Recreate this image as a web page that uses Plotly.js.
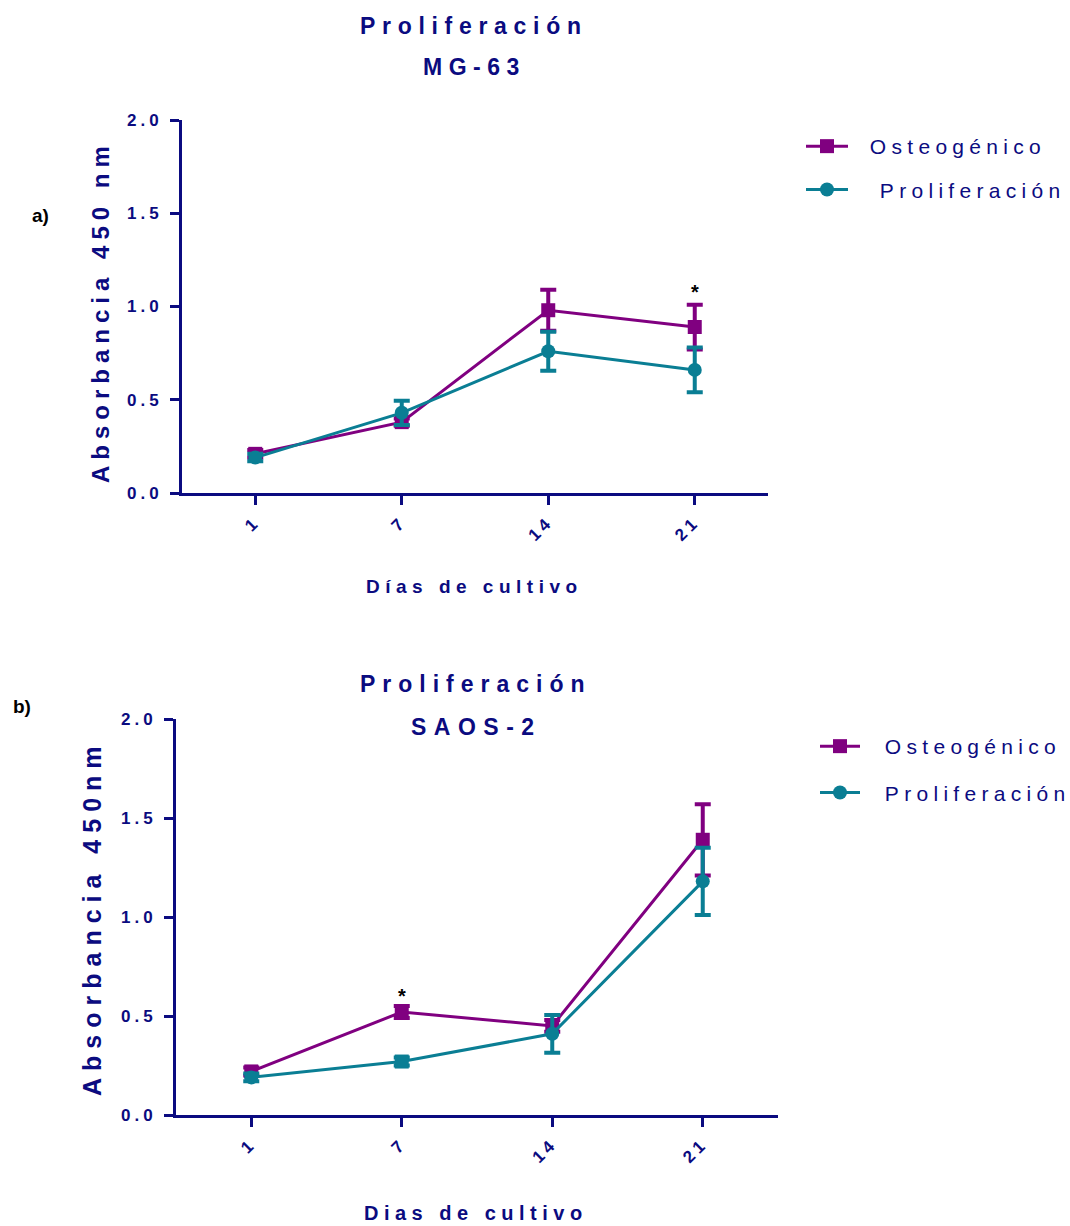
<!DOCTYPE html>
<html>
<head>
<meta charset="utf-8">
<script src="https://cdn.plot.ly/plotly-3.0.1.min.js"></script>
<style>
html,body{margin:0;padding:0;background:#fff;overflow:hidden;width:1070px;height:1226px}
</style>
</head>
<body>
<div id="chart" style="width:1070px;height:1226px"></div>
<script>
// Culture days (categorical x axis)
const days = ['1', '7', '14', '21'];

// MG-63: absorbance at 450 nm, mean and error
const mg63Osteo = [0.21, 0.38, 0.98, 0.89];
const mg63OsteoErr = [0.02, 0.02, 0.11, 0.12];
const mg63Prolif = [0.19, 0.43, 0.76, 0.66];
const mg63ProlifErr = [0.02, 0.065, 0.105, 0.12];

// SAOS-2: absorbance at 450 nm, mean and error
const saosOsteo = [0.22, 0.52, 0.45, 1.39];
const saosOsteoErr = [0.02, 0.03, 0.03, 0.18];
const saosProlif = [0.19, 0.27, 0.41, 1.18];
const saosProlifErr = [0.02, 0.02, 0.095, 0.17];

// Significance marks: [day, height]
const mg63Star = ['21', 1.08];
const saosStar = ['7', 0.60];

const yTicks = [0, 0.5, 1.0, 1.5, 2.0];
const yTickText = ['0.0', '0.5', '1.0', '1.5', '2.0'];

const W = 1070, H = 1226;
const NAVY = '#0b0b80';
const PURPLE = '#800080';
const TEAL = '#0a7e94';
const FONT = 'Liberation Sans, Arial, sans-serif';

const px = x => x / W;
const py = y => 1 - y / H;
const sp = (t, s) => `<span style="letter-spacing:${s}px">${t}</span>`;
// leading gap between legend symbol and its label
const pad = n => `<span style="letter-spacing:${n}px">\u00a0</span>`;

function series(name, y, err, color, symbol, xa, ya, legend, group) {
  return {
    type: 'scatter', mode: 'lines+markers',
    x: days, y: y, name: name,
    xaxis: xa, yaxis: ya, legend: legend, legendgroup: group,
    line: {color: color, width: 3},
    marker: {color: color, size: 14, symbol: symbol},
    error_y: {type: 'data', array: err, visible: true, color: color, thickness: 4, width: 8},
    cliponaxis: false
  };
}

const data = [
  series(pad(11) + sp('Osteogénico', 5.3), mg63Osteo, mg63OsteoErr, PURPLE, 'square', 'x', 'y', 'legend', 'a1'),
  series(pad(21) + sp('Proliferación', 5.3), mg63Prolif, mg63ProlifErr, TEAL, 'circle', 'x', 'y', 'legend', 'a2'),
  series(pad(14) + sp('Osteogénico', 5.3), saosOsteo, saosOsteoErr, PURPLE, 'square', 'x2', 'y2', 'legend2', 'b1'),
  series(pad(14) + sp('Proliferación', 5.3), saosProlif, saosProlifErr, TEAL, ['circle', 'square', 'circle', 'circle'], 'x2', 'y2', 'legend2', 'b2')
];

const tickFont = {family: FONT, size: 17, color: NAVY, weight: 'bold'};

function xAxis(domain, anchor) {
  return {
    domain: domain, anchor: anchor, type: 'category', range: [-0.5, 3.5],
    tickvals: days, ticktext: days.map(d => sp(d, 4)), tickangle: -45,
    showline: true, linecolor: NAVY, linewidth: 3, mirror: false,
    ticks: 'outside', ticklen: 9, tickwidth: 3, tickcolor: NAVY,
    showgrid: false, zeroline: false, tickfont: tickFont, fixedrange: true
  };
}
function yAxis(domain, anchor) {
  return {
    domain: domain, anchor: anchor, range: [0, 2],
    tickvals: yTicks, ticktext: yTickText.map(t => sp(t, 4)),
    showline: true, linecolor: NAVY, linewidth: 3,
    ticks: 'outside', ticklen: 9, tickwidth: 3, tickcolor: NAVY,
    showgrid: false, zeroline: false, tickfont: tickFont, fixedrange: true,
    ticklabelstandoff: 4
  };
}

function txt(text, x, y, size, opts) {
  return Object.assign({
    text: text, x: x, y: y, xref: 'paper', yref: 'paper',
    xanchor: 'center', yanchor: 'middle', showarrow: false,
    font: {family: FONT, size: size, color: NAVY, weight: 'bold'}
  }, opts || {});
}

function star(pos, xa, ya) {
  return {
    text: '*', x: days.indexOf(pos[0]), y: pos[1], xref: xa, yref: ya,
    showarrow: false, xanchor: 'center', yanchor: 'middle',
    font: {family: FONT, size: 20, color: '#000', weight: 'bold'}
  };
}

// legends are placed against the whole page so they never shrink the plotting area
const legendBase = {
  font: {family: FONT, size: 21, color: NAVY},
  bgcolor: 'rgba(0,0,0,0)', borderwidth: 0,
  traceorder: 'grouped', tracegroupgap: 13,
  xref: 'container', yref: 'container',
  xanchor: 'left', yanchor: 'top', itemclick: false, itemdoubleclick: false
};

const layout = {
  width: W, height: H,
  margin: {l: 0, r: 0, t: 0, b: 0, autoexpand: false},
  paper_bgcolor: '#fff', plot_bgcolor: '#fff',
  showlegend: true,
  xaxis: xAxis([px(182), px(768)], 'y'),
  yaxis: yAxis([py(493), py(120)], 'x'),
  xaxis2: xAxis([px(176), px(778)], 'y2'),
  yaxis2: yAxis([py(1115), py(719)], 'x2'),
  legend: Object.assign({}, legendBase, {x: px(801), y: py(126), itemwidth: 42}),
  legend2: Object.assign({}, legendBase, {x: px(815), y: py(726), itemwidth: 40, tracegroupgap: 16}),
  annotations: [
    txt(sp('Proliferación', 6.7), px(474), py(26), 23),
    txt(sp('MG-63', 6.5), px(474), py(67), 23),
    txt(sp('Proliferación', 7), px(476), py(684), 23),
    txt(sp('SAOS-2', 7.5), px(476), py(727), 23),
    txt(sp('Absorbancia 450 nm', 6), px(100), py(312), 24, {textangle: -90}),
    txt(sp('Absorbancia 450nm', 7), px(92), py(918), 25, {textangle: -90}),
    txt(sp('Días de cultivo', 5.5), px(474), py(586), 19),
    txt(sp('Dias de cultivo', 5.5), px(476), py(1213), 20),
    txt('a)', px(40), py(216), 19, {font: {family: FONT, size: 19, color: '#000', weight: 'bold'}}),
    txt('b)', px(22), py(706), 19, {font: {family: FONT, size: 19, color: '#000', weight: 'bold'}}),
    star(mg63Star, 'x', 'y'),
    star(saosStar, 'x2', 'y2')
  ]
};

Plotly.newPlot('chart', data, layout, {staticPlot: true, displayModeBar: false});
</script>
</body>
</html>
